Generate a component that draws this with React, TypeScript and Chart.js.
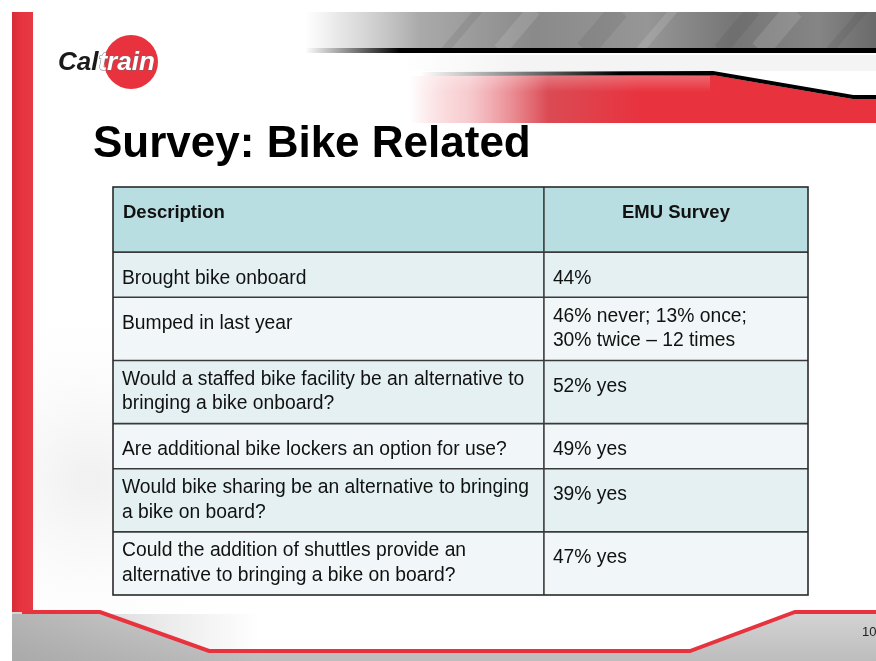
import React, { useEffect, useRef } from "react";
import { Chart, registerables } from "chart.js";

Chart.register(...registerables);

// ---- Data ----
const TITLE = "Survey: Bike Related";
const COLUMN_HEADERS = ["Description", "EMU Survey"];
const DESCRIPTIONS: string[][] = [
  ["Brought bike onboard"],
  ["Bumped in last year"],
  ["Would a staffed bike facility be an alternative to", "bringing a bike onboard?"],
  ["Are additional bike lockers an option for use?"],
  ["Would bike sharing be an alternative to bringing", "a bike on board?"],
  ["Could the addition of shuttles provide an", "alternative to bringing a bike on board?"],
];
const EMU_RESULTS: string[][] = [
  ["44%"],
  ["46% never; 13% once;", "30% twice \u2013 12 times"],
  ["52% yes"],
  ["49% yes"],
  ["39% yes"],
  ["47% yes"],
];
const PAGE_NUMBER = "10";

// ---- layout constants (units of the y scale) ----
const HEADER_UNITS = 65;
const ONE_LINE_UNITS = 45;
const TWO_LINE_UNITS = 63;
const COL_SPLIT = 62; // percent of table width (x scale 0..100)

const W = 876;
const H = 661;
const FONT = "'Liberation Sans', Arial, sans-serif";
const RED = "#e8333f";

function rowUnits(): number[] {
  const units = [HEADER_UNITS];
  DESCRIPTIONS.forEach((d, i) => {
    const lines = Math.max(d.length, EMU_RESULTS[i].length);
    units.push(lines > 1 ? TWO_LINE_UNITS : ONE_LINE_UNITS);
  });
  return units;
}

function drawSlide(ctx: CanvasRenderingContext2D) {
  ctx.save();
  ctx.fillStyle = "#ffffff";
  ctx.fillRect(0, 0, W, H);

  // faint ghost background on the left
  let g = ctx.createRadialGradient(90, 480, 10, 90, 480, 200);
  g.addColorStop(0, "rgba(228,228,228,0.5)");
  g.addColorStop(1, "rgba(255,255,255,0)");
  ctx.fillStyle = g;
  ctx.fillRect(33, 280, 260, 332);

  // top gray band
  g = ctx.createLinearGradient(305, 0, W, 0);
  g.addColorStop(0, "rgba(230,230,230,0)");
  g.addColorStop(0.06, "rgba(225,225,225,0.8)");
  g.addColorStop(0.2, "#aaaaaa");
  g.addColorStop(0.4, "#8a8a8a");
  g.addColorStop(0.6, "#969696");
  g.addColorStop(0.75, "#767676");
  g.addColorStop(0.9, "#858585");
  g.addColorStop(1, "#6a6a6a");
  ctx.fillStyle = g;
  ctx.fillRect(305, 12, W - 305, 36);
  // streaks
  ctx.save();
  ctx.beginPath();
  ctx.rect(400, 12, W - 400, 36);
  ctx.clip();
  const streaks = [445, 500, 585, 640, 720, 760, 830];
  streaks.forEach((sx, i) => {
    ctx.strokeStyle = i % 2 ? "rgba(255,255,255,0.12)" : "rgba(50,50,50,0.10)";
    ctx.lineWidth = 8 + (i % 3) * 6;
    ctx.beginPath();
    ctx.moveTo(sx, 50);
    ctx.lineTo(sx + 34, 10);
    ctx.stroke();
  });
  ctx.restore();
  // black line
  g = ctx.createLinearGradient(305, 0, 400, 0);
  g.addColorStop(0, "rgba(0,0,0,0)");
  g.addColorStop(1, "rgba(0,0,0,1)");
  ctx.fillStyle = g;
  ctx.fillRect(305, 48, W - 305, 5);
  // light band below
  g = ctx.createLinearGradient(400, 0, 520, 0);
  g.addColorStop(0, "rgba(244,244,244,0)");
  g.addColorStop(1, "rgba(244,244,244,1)");
  ctx.fillStyle = g;
  ctx.fillRect(400, 55, W - 400, 16);

  // red band
  g = ctx.createLinearGradient(410, 0, 640, 0);
  g.addColorStop(0, "rgba(232,51,63,0)");
  g.addColorStop(0.25, "rgba(232,110,120,0.35)");
  g.addColorStop(0.6, "rgba(215,55,65,0.9)");
  g.addColorStop(1, RED);
  ctx.fillStyle = g;
  ctx.beginPath();
  ctx.moveTo(410, 76);
  ctx.lineTo(713, 75);
  ctx.lineTo(853, 99);
  ctx.lineTo(W, 99);
  ctx.lineTo(W, 123);
  ctx.lineTo(410, 123);
  ctx.closePath();
  ctx.fill();
  // light stripe inside red band
  g = ctx.createLinearGradient(0, 76, 0, 92);
  g.addColorStop(0, "rgba(255,255,255,0.25)");
  g.addColorStop(1, "rgba(255,255,255,0)");
  ctx.fillStyle = g;
  ctx.fillRect(410, 76, 300, 16);
  // black line on top of red band
  g = ctx.createLinearGradient(420, 0, 620, 0);
  g.addColorStop(0, "rgba(0,0,0,0)");
  g.addColorStop(1, "rgba(0,0,0,1)");
  ctx.strokeStyle = g;
  ctx.lineWidth = 4;
  ctx.beginPath();
  ctx.moveTo(420, 74);
  ctx.lineTo(713, 73);
  ctx.lineTo(853, 97);
  ctx.lineTo(W, 97);
  ctx.stroke();

  // left red bar
  g = ctx.createLinearGradient(12, 0, 33, 0);
  g.addColorStop(0, "#d42c38");
  g.addColorStop(0.4, RED);
  g.addColorStop(1, "#e43a44");
  ctx.fillStyle = g;
  ctx.fillRect(12, 12, 21, 602);

  // bottom gray area
  g = ctx.createLinearGradient(0, 612, 0, H);
  g.addColorStop(0, "#d4d4d4");
  g.addColorStop(1, "#bdbdbd");
  ctx.fillStyle = g;
  ctx.beginPath();
  ctx.moveTo(12, 612);
  ctx.lineTo(100, 612);
  ctx.lineTo(209, 651);
  ctx.lineTo(690, 651);
  ctx.lineTo(795, 612);
  ctx.lineTo(W, 612);
  ctx.lineTo(W, H);
  ctx.lineTo(12, H);
  ctx.closePath();
  ctx.fill();
  // darker patch bottom-left
  g = ctx.createLinearGradient(12, 0, 260, 0);
  g.addColorStop(0, "rgba(150,150,150,0.5)");
  g.addColorStop(1, "rgba(150,150,150,0)");
  ctx.fillStyle = g;
  ctx.fillRect(12, 614, 260, H - 614);
  // red line
  ctx.strokeStyle = RED;
  ctx.lineWidth = 4;
  ctx.lineJoin = "miter";
  ctx.beginPath();
  ctx.moveTo(22, 612);
  ctx.lineTo(100, 612);
  ctx.lineTo(209, 651);
  ctx.lineTo(690, 651);
  ctx.lineTo(795, 612);
  ctx.lineTo(W, 612);
  ctx.stroke();

  // page number
  ctx.fillStyle = "#222";
  ctx.font = `13px ${FONT}`;
  ctx.textBaseline = "alphabetic";
  ctx.fillText(PAGE_NUMBER, 862, 636);

  // logo
  ctx.fillStyle = RED;
  ctx.beginPath();
  ctx.arc(131, 62, 27, 0, Math.PI * 2);
  ctx.fill();
  ctx.font = `italic bold 26px ${FONT}`;
  ctx.fillStyle = "#1a1a1a";
  ctx.fillText("Cal", 58, 70);
  const calW = ctx.measureText("Cal").width;
  ctx.fillStyle = "#ffffff";
  ctx.strokeStyle = "rgba(110,110,110,0.9)";
  ctx.lineWidth = 1;
  ctx.strokeText("train", 58 + calW, 70);
  ctx.fillText("train", 58 + calW, 70);

  // title
  ctx.fillStyle = "#000";
  ctx.font = `bold 44px ${FONT}`;
  ctx.fillText(TITLE, 93, 157);
  ctx.restore();
}

const slidePlugin = {
  id: "slide",
  beforeDraw(chart: any) {
    drawSlide(chart.ctx);
  },
  afterDraw(chart: any) {
    const ctx: CanvasRenderingContext2D = chart.ctx;
    const xs = chart.scales.x;
    const ys = chart.scales.y;
    const units = rowUnits();
    const left = xs.getPixelForValue(0);
    const right = xs.getPixelForValue(100);
    const split = xs.getPixelForValue(COL_SPLIT);
    let acc = 0;
    const bounds: number[] = [ys.getPixelForValue(0)];
    units.forEach((u) => {
      acc += u;
      bounds.push(ys.getPixelForValue(acc));
    });
    ctx.save();
    // fills
    for (let r = 0; r < units.length; r++) {
      const top = bounds[r];
      const bot = bounds[r + 1];
      ctx.fillStyle = r === 0 ? "#b8dee2" : r % 2 === 1 ? "#e4f0f2" : "#f1f7f8";
      ctx.fillRect(left, top, right - left, bot - top);
    }
    // text
    ctx.fillStyle = "#111";
    ctx.textBaseline = "alphabetic";
    for (let r = 0; r < units.length; r++) {
      const top = bounds[r];
      if (r === 0) {
        ctx.font = `bold 18.5px ${FONT}`;
        ctx.textAlign = "left";
        ctx.fillText(COLUMN_HEADERS[0], left + 10, top + 31);
        ctx.textAlign = "center";
        ctx.fillText(COLUMN_HEADERS[1], (split + right) / 2, top + 31);
        continue;
      }
      ctx.font = `19.3px ${FONT}`;
      ctx.textAlign = "left";
      const cells = [DESCRIPTIONS[r - 1], EMU_RESULTS[r - 1]];
      cells.forEach((lines, c) => {
        const x = (c === 0 ? left : split) + 9;
        if (lines.length === 1) {
          ctx.fillText(lines[0], x, top + 31.5);
        } else {
          lines.forEach((ln, i) => ctx.fillText(ln, x, top + 24.5 + i * 24.5));
        }
      });
    }
    // grid lines
    ctx.strokeStyle = "#3a3a3a";
    ctx.lineWidth = 1.6;
    for (let r = 1; r < units.length; r++) {
      ctx.beginPath();
      ctx.moveTo(left, bounds[r]);
      ctx.lineTo(right, bounds[r]);
      ctx.stroke();
    }
    ctx.beginPath();
    ctx.moveTo(split, bounds[0]);
    ctx.lineTo(split, bounds[bounds.length - 1]);
    ctx.stroke();
    ctx.strokeStyle = "#2a2a2a";
    ctx.lineWidth = 1.6;
    ctx.strokeRect(left, bounds[0], right - left, bounds[bounds.length - 1] - bounds[0]);
    ctx.restore();
  },
};

export default function App() {
  const ref = useRef<HTMLCanvasElement>(null);
  useEffect(() => {
    document.body.style.margin = "0";
    const canvas = ref.current!;
    const total = rowUnits().reduce((a, b) => a + b, 0);
    const chart = new Chart(canvas, {
      type: "scatter",
      data: { datasets: [{ data: [], pointRadius: 0 }] },
      options: {
        responsive: false,
        animation: false,
        layout: { padding: { left: 113, right: W - 808, top: 187, bottom: H - 595 } },
        plugins: { legend: { display: false }, tooltip: { enabled: false } },
        scales: {
          x: { type: "linear", min: 0, max: 100, display: false },
          y: { type: "linear", min: 0, max: total, reverse: true, display: false },
        },
      },
      plugins: [slidePlugin],
    });
    return () => chart.destroy();
  }, []);
  return (
    <div style={{ width: W, height: H, overflow: "hidden" }}>
      <canvas ref={ref} width={W} height={H} style={{ display: "block", width: W, height: H }} />
    </div>
  );
}
